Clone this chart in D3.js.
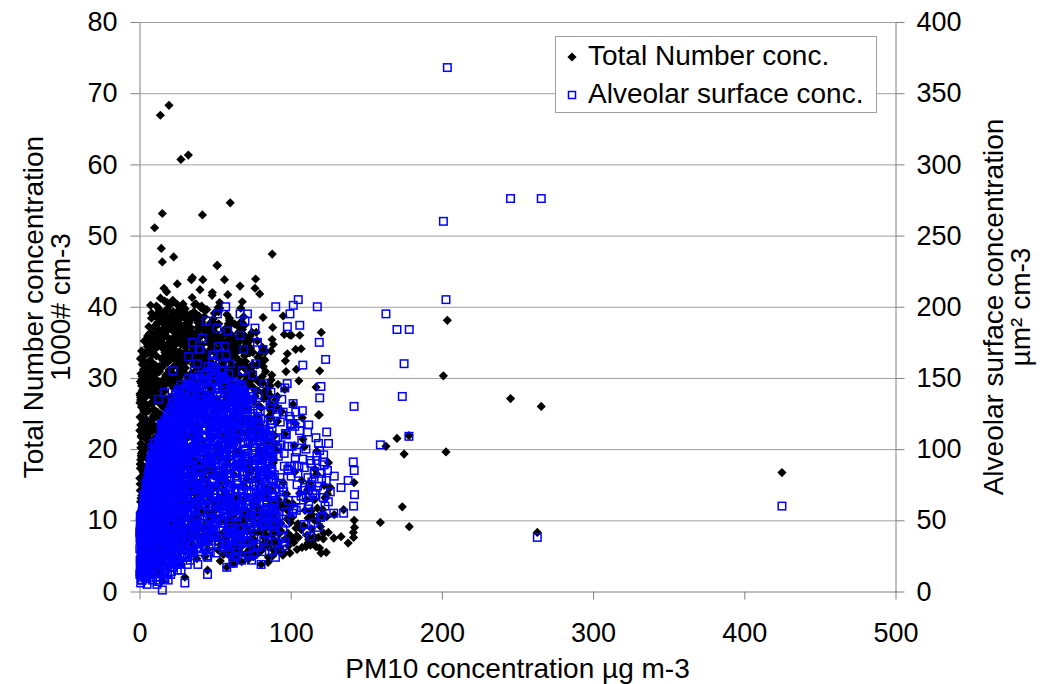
<!DOCTYPE html>
<html>
<head>
<meta charset="utf-8">
<script src="https://cdn.jsdelivr.net/npm/d3@7"></script>
<style>
body { margin: 0; background: #fff; }
text { font-family: "Liberation Sans", Arial, sans-serif; fill: #000; }
</style>
</head>
<body>
<svg id="chart" width="1044" height="684"></svg>
<script>
// tick labels
var pm10Ticks = [0, 100, 200, 300, 400, 500];
var numberTicks = [0, 10, 20, 30, 40, 50, 60, 70, 80];
var surfaceTicks = [0, 50, 100, 150, 200, 250, 300, 350, 400];
var seriesNames = ["Total Number conc.", "Alveolar surface conc."];

// PM10 of each sample (µg m-3)
var pm10 = [
  // 0-5
  1.2, 2.5, 0.8, 3.1, 4.2, 1.7, 2.9, 0.5, 3.8, 4.7,
  1.0, 2.2, 3.4, 0.9, 4.4, 1.5, 2.7, 3.6, 0.6, 4.9,
  1.9, 2.4, 3.0, 1.3, 4.0, 0.7, 2.0, 3.3, 4.6, 1.1,
  2.8, 0.4, 3.9, 1.6, 4.3, 2.1, 3.5, 0.8, 4.8, 1.4,
  2.6, 3.2, 0.5, 4.1, 1.8, 2.3, 3.7, 1.0, 4.5, 0.3,
  2.0, 3.0, 1.2, 4.2, 0.9, 2.5, 3.8, 1.6, 4.6, 2.9,
  // 5-10
  5.3, 6.8, 7.5, 8.9, 9.6, 5.9, 7.1, 8.3, 9.2, 6.2,
  5.6, 7.8, 8.6, 9.9, 6.5, 7.3, 8.1, 9.4, 5.1, 6.9,
  7.7, 8.8, 9.1, 6.0, 5.4, 7.0, 8.4, 9.7, 6.6, 7.9,
  5.8, 8.0, 9.3, 6.3, 7.4, 8.7, 9.8, 5.2, 6.7, 7.6,
  8.2, 9.0, 6.1, 5.7, 7.2, 8.5, 9.5, 6.4, 7.8, 8.9,
  5.5, 6.9, 9.2, 7.1, 8.0, 6.0, 9.9, 5.3, 7.5, 8.6,
  6.8, 9.4, 5.9, 7.7, 8.3, 6.6, 9.6, 10.0, 5.0, 7.3,
  // 10-20
  10.4, 11.7, 12.3, 13.8, 14.2, 15.6, 16.1, 17.9, 18.4, 19.5,
  10.9, 12.6, 13.1, 14.7, 15.3, 16.8, 17.2, 18.9, 19.1, 11.2,
  12.0, 13.5, 14.0, 15.9, 16.4, 17.6, 18.1, 19.8, 10.6, 11.9,
  13.3, 14.5, 15.1, 16.6, 17.4, 18.7, 19.3, 10.2, 11.5, 12.8,
  14.9, 15.7, 16.3, 17.1, 18.2, 19.6, 10.8, 12.1, 13.6, 14.3,
  15.4, 16.9, 17.7, 18.5, 19.9, 11.1, 12.4, 13.9, 14.6, 15.2,
  16.2, 17.8, 18.3, 19.2, 10.5, 11.8, 13.2, 14.8, 15.8, 16.7,
  17.3, 18.8, 19.4, 10.1, 12.2, 13.7, 14.1, 15.5, 16.5, 17.5,
  18.6, 19.7, 11.4, 12.7, 13.4, 14.4, 15.0, 16.0, 17.0, 18.0,
  19.0, 11.0, 12.9, 13.0, 14.0, 15.1, 16.4, 17.6, 18.9, 19.5,
  13.8, 19.5, 14.4, 15.1, 16.2, 22.6, 25.0, 15.1, 10.3, 12.5,
  // 20-30
  20.3, 21.8, 22.4, 23.9, 24.1, 25.7, 26.2, 27.6, 28.3, 29.5,
  20.8, 22.1, 23.3, 24.6, 25.2, 26.8, 27.1, 28.7, 29.2, 21.4,
  22.7, 23.6, 24.9, 25.4, 26.5, 27.9, 28.1, 29.8, 20.5, 21.2,
  22.9, 23.1, 24.3, 25.9, 26.1, 27.4, 28.9, 29.4, 20.1, 21.6,
  22.2, 23.8, 24.7, 25.1, 26.7, 27.2, 28.5, 29.7, 21.0, 22.5,
  23.4, 24.2, 25.6, 26.3, 27.8, 28.4, 29.1, 20.7, 21.9, 22.8,
  23.2, 24.8, 25.3, 26.9, 27.3, 28.6, 29.9, 20.4, 21.5, 22.3,
  23.7, 24.4, 25.8, 26.4, 27.5, 28.2, 29.3, 20.9, 21.3, 22.6,
  23.5, 24.5, 25.5, 26.6, 27.7, 28.8, 29.6, 21.7, 23.0, 24.0,
  25.0, 26.0, 27.0, 28.0, 29.0, 27.4, 32.3, 24.0, 22.0, 26.0,
  // 30-40
  30.2, 31.7, 32.4, 33.9, 34.1, 35.6, 36.3, 37.8, 38.2, 39.5,
  30.8, 32.1, 33.3, 34.7, 35.2, 36.9, 37.1, 38.6, 39.1, 31.3,
  32.8, 33.6, 34.4, 35.9, 36.5, 37.4, 38.9, 39.8, 30.5, 31.9,
  32.6, 33.1, 34.9, 35.3, 36.1, 37.6, 38.4, 39.3, 30.1, 31.5,
  32.3, 33.8, 34.2, 35.7, 36.7, 37.2, 38.8, 39.6, 31.1, 32.9,
  33.4, 34.6, 35.1, 36.4, 37.9, 38.1, 39.2, 30.6, 31.4, 32.2,
  33.7, 34.8, 35.8, 36.2, 37.3, 38.5, 39.9, 30.9, 31.8, 33.2,
  34.3, 35.4, 36.8, 37.7, 38.3, 39.4, 40.0, 32.5, 35.0, 37.0,
  // 40-50
  40.4, 41.8, 42.3, 43.7, 44.2, 45.6, 46.1, 47.9, 48.3, 49.5,
  40.9, 42.1, 43.2, 44.8, 45.3, 46.7, 47.2, 48.6, 49.1, 41.3,
  42.7, 43.9, 44.5, 45.9, 46.4, 47.5, 48.9, 49.8, 40.6, 41.5,
  42.9, 43.4, 44.1, 45.2, 46.8, 47.7, 48.1, 49.3, 41.1, 42.5,
  43.1, 44.6, 45.7, 46.2, 47.3, 48.4, 49.7, 40.2, 41.9, 43.5,
  44.9, 45.1, 46.6, 47.1, 48.8, 49.2, 51.3, 41.6, 48.2, 44.0,
  // 50-60
  50.3, 51.8, 52.4, 53.7, 54.2, 55.6, 56.1, 57.9, 58.3, 59.5,
  50.9, 52.1, 53.2, 54.8, 55.3, 56.7, 57.2, 58.6, 59.1, 51.4,
  52.7, 53.9, 54.5, 55.9, 56.4, 57.5, 58.9, 59.8, 50.6, 51.1,
  52.9, 53.4, 54.1, 55.2, 56.8, 57.7, 58.1, 59.3, 51.6, 54.9,
  56.2, 58.4, 51.5, 53.0, 57.0,
  // 60-70
  60.4, 61.8, 62.3, 63.7, 64.2, 65.6, 66.1, 67.9, 68.3, 69.5,
  60.9, 62.1, 63.2, 64.8, 65.3, 66.7, 67.2, 68.6, 69.1, 61.4,
  62.7, 63.9, 64.5, 65.9, 66.4, 67.5, 68.9, 69.8, 60.0, 66.5,
  63.4, 65.0, 66.5, 67.0, 68.0,
  // 70-80
  70.5, 71.8, 72.3, 73.7, 74.2, 75.6, 76.1, 77.9, 78.3, 79.5,
  70.9, 72.1, 73.2, 74.8, 75.3, 76.8, 77.2, 78.6, 79.1, 71.4,
  72.7, 74.5, 76.4, 78.0, 79.8,
  // 80-100
  80.5, 82.3, 84.1, 85.7, 87.8, 89.2, 90.6, 92.4, 94.1, 95.8,
  97.3, 99.5, 81.2, 83.6, 86.4, 88.7, 91.3, 93.2, 96.1, 98.4,
  81.7, 84.8, 87.1, 90.1, 92.9, 95.0, 97.8, 99.9, 85.0, 95.0,
  // 100-130
  100.5, 101.7, 103.3, 105.0, 106.0, 107.7, 108.0, 111.9, 116.7, 117.2,
  117.6, 118.9, 119.2, 120.0, 120.2, 121.8, 123.1, 123.8, 126.2, 128.8,
  128.5, 102.4, 110.3, 113.8, 125.0,
  // 130-145
  133.3, 141.4, 141.9, 142.0, 142.2, 141.6, 135.0, 138.0,
  // high PM10
  159.3, 163.0, 170.3, 173.8, 175.0, 178.2, 178.4, 201.0, 202.7, 203.6,
  245.4, 265.7, 263.1, 424.9,
  // low edge
  57.7, 80.4, 67.6, 15.1, 45.0, 30.0, 72.0, 88.0, 95.0, 62.0,
  // more samples 0-10
  0.4, 1.1, 1.8, 2.6, 3.3, 4.1, 4.9, 5.6, 6.4, 7.2,
  8.0, 8.8, 9.5, 0.7, 1.5, 2.2, 3.0, 3.7, 4.5, 5.2,
  6.0, 6.7, 7.5, 8.3, 9.1, 9.8, 0.2, 1.0, 1.7, 2.5,
  3.2, 4.0, 4.7, 5.5, 6.2, 7.0, 7.8, 8.5, 9.3, 0.6,
  1.3, 2.1, 2.8, 3.6, 4.3, 5.1, 5.8, 6.6, 7.3, 8.1,
  8.9, 9.6, 0.9, 1.6, 2.4, 3.1, 3.9, 4.6, 5.4, 6.1,
  6.9, 7.6, 8.4, 9.2, 9.9, 0.3, 1.2, 2.0, 2.7, 3.5,
  4.2, 5.0, 5.7, 6.5, 7.2, 8.0, 8.7, 9.5, 0.8, 1.4,
  2.3, 2.9, 3.8, 4.4, 5.3, 5.9, 6.8, 7.4, 8.2, 9.0,
  9.7, 0.5, 1.9, 3.4, 4.8, 6.3, 7.7, 9.2, 1.0, 2.6,
  4.0, 5.5, 7.0, 8.6, 0.2, 1.6, 3.1, 4.6, 6.0, 7.5,
  9.0, 0.7, 2.2, 3.7, 5.1, 6.6, 8.1, 9.6, 1.3, 2.8,
  4.3, 5.8, 7.3, 8.8, 0.4, 1.9, 3.3, 4.9, 6.4, 7.9,
  9.4, 1.1, 2.5, 4.0, 5.4, 6.9, 8.4, 9.8, 0.6, 2.1,
  3.6, 5.1, 6.5, 8.0, 9.5, 1.4, 2.9, 4.4, 5.9, 7.4,
  // more samples 10-30
  10.3, 11.5, 12.7, 13.9, 15.1, 16.3, 17.5, 18.7, 19.9, 21.1,
  22.3, 23.5, 24.7, 25.9, 27.1, 28.3, 29.5, 10.9, 12.1, 13.3,
  14.5, 15.7, 16.9, 18.1, 19.3, 20.5, 21.7, 22.9, 24.1, 25.3,
  26.5, 27.7, 28.9, 10.6, 11.8, 13.0, 14.2, 15.4, 16.6, 17.8,
  19.0, 20.2, 21.4, 22.6, 23.8, 25.0, 26.2, 27.4, 28.6, 29.8,
  11.2, 12.4, 13.6, 14.8, 16.0, 17.2, 18.4, 19.6, 20.8, 22.0,
  23.2, 24.4, 25.6, 26.8, 28.0, 29.2, 10.1, 11.3, 12.5, 13.7,
  14.9, 16.1, 17.3, 18.5, 19.7, 20.9, 22.1, 23.3, 24.5, 25.7,
  26.9, 28.1, 29.3, 10.7, 11.9, 13.1, 14.3, 15.5, 16.7, 17.9,
  19.1, 20.3, 21.5, 22.7, 23.9, 25.1, 26.3, 27.5, 28.7, 29.9,
  10.5, 11.7, 12.9, 14.1, 15.3, 16.5, 17.7, 18.9, 20.1, 21.3,
  22.5, 23.7, 24.9, 26.1, 27.3, 28.5, 29.7, 11.0, 12.2, 13.4,
  14.6, 15.8, 17.0, 18.2, 19.4, 20.6, 21.8, 23.0, 24.2, 25.4,
  26.6, 27.8, 29.0, 10.2, 11.4, 12.6, 13.8, 15.0, 16.2, 17.4,
  18.6, 19.8, 21.0, 22.2, 23.4, 24.6, 25.8, 27.0, 28.2, 29.4,
  10.8, 12.0, 13.2, 14.4, 15.6, 16.8, 18.0, 19.2, 20.4, 21.6,
  22.8, 24.0, 25.2, 26.4, 27.6, 28.8, 10.4, 11.6, 12.8, 14.0,
  15.2, 16.4, 17.6, 18.8, 20.0, 21.2, 22.4, 23.6, 24.8, 26.0,
  27.2, 28.4, 29.6, 11.1, 12.3, 13.5, 14.7, 15.9, 17.1, 18.3,
  19.5, 20.7, 21.9, 23.1, 24.3, 25.5, 26.7, 27.9, 29.1, 10.0,
  13.8, 17.0, 20.2, 23.4, 26.6, 29.8, 12.1, 15.3, 18.5, 21.7,
  24.9, 28.1, 11.5, 14.7, 17.9, 21.1, 24.3, 27.5, 10.6, 13.9,
  17.1, 20.3, 23.5, 26.7, 29.9, 12.6, 15.8, 19.0, 22.2, 25.4,
  28.6, 11.9, 15.1, 18.3, 21.5, 24.7, 27.9, 10.9, 14.2, 17.4,
  20.6, 23.8, 27.0, 13.0, 16.2, 19.4, 22.6, 25.8, 29.0, 16.6,
  // more samples 30-60
  30.4, 31.9, 33.4, 34.9, 36.4, 37.9, 39.4, 40.9, 42.4, 43.9,
  45.4, 46.9, 48.4, 49.9, 51.4, 52.9, 54.4, 55.9, 57.4, 58.9,
  30.9, 32.4, 33.9, 35.4, 36.9, 38.4, 39.9, 41.4, 42.9, 44.4,
  45.9, 47.4, 48.9, 50.4, 51.9, 53.4, 54.9, 56.4, 57.9, 59.4,
  31.4, 32.9, 34.4, 35.9, 37.4, 38.9, 40.4, 41.9, 43.4, 44.9,
  46.4, 47.9, 49.4, 50.9, 52.4, 53.9, 55.4, 56.9, 58.4, 59.9,
  30.2, 31.7, 33.2, 34.7, 36.2, 37.7, 39.2, 40.7, 42.2, 43.7,
  45.2, 46.7, 48.2, 49.7, 51.2, 52.7, 54.2, 55.7, 57.2, 58.7,
  30.7, 32.2, 33.7, 35.2, 36.7, 38.2, 39.7, 41.2, 42.7, 44.2,
  45.7, 47.2, 48.7, 50.2, 51.7, 53.2, 54.7, 56.2, 57.7, 59.2,
  31.2, 32.7, 34.2, 35.7, 37.2, 38.7, 40.2, 41.7, 43.2, 44.7,
  46.2, 47.7, 49.2, 50.7, 52.2, 53.7, 55.2, 56.7, 58.2, 59.7,
  30.1, 33.1, 36.1, 39.1, 42.1, 45.1, 48.1, 51.1, 54.1, 57.1,
  31.6, 34.6, 37.6, 40.6, 43.6, 46.6, 49.6, 52.6, 55.6, 58.6,
  32.1, 35.1, 38.1, 41.1, 44.1, 47.1, 50.1, 53.1, 56.1, 59.1,
  30.6, 33.6, 36.6, 39.6, 42.6, 45.6, 48.6, 51.6, 54.6, 57.6,
  32.6, 35.6, 38.6, 41.6, 44.6, 47.6, 50.6, 53.6, 56.6, 59.6,
  31.1, 34.1, 37.1, 40.1, 43.1, 46.1, 49.1, 52.1, 55.1, 58.1,
  30.3, 36.3, 42.3, 48.3, 54.3, 33.3, 39.3, 45.3, 51.3, 57.3,
  31.8, 37.8, 43.8, 49.8, 55.8, 34.8, 40.8, 46.8, 52.8, 58.8,
  // more samples 60-115
  60.5, 62.5, 64.5, 66.5, 68.5, 70.5, 72.5, 74.5, 76.5, 78.5,
  80.5, 82.5, 84.5, 86.5, 88.5, 61.5, 63.5, 65.5, 67.5, 69.5,
  71.5, 73.5, 75.5, 77.5, 79.5, 81.5, 83.5, 85.5, 87.5, 89.5,
  60.8, 63.8, 66.8, 69.8, 72.8, 75.8, 78.8, 81.8, 84.8, 87.8,
  61.8, 64.8, 67.8, 70.8, 73.8, 76.8, 79.8, 82.8, 85.8, 88.8,
  62.2, 65.2, 68.2, 71.2, 74.2, 77.2, 80.2, 83.2, 86.2, 89.2,
  60.2, 64.2, 68.8, 72.2, 76.2, 80.8, 84.2, 88.2, 63.2, 67.2,
  71.8, 75.2, 79.2, 83.8, 87.2, 61.2, 65.8, 69.2, 73.2, 77.8,
  81.2, 85.2, 89.8, 62.8, 66.2, 70.2, 74.8, 78.2, 82.2, 86.8,
  90.5, 93.5, 96.5, 99.5, 103.5, 107.5, 111.5, 115.5, 91.8, 97.8,
  // upper edge of the cloud 35-75
  35.5, 38.5, 41.5, 44.5, 47.5, 50.5, 53.5, 56.5, 59.5, 62.5,
  65.5, 68.5, 71.5, 74.5, 36.8, 39.8, 42.8, 45.8, 48.8, 51.8,
  54.8, 57.8, 60.8, 63.8, 66.8, 69.8, 72.8, 37.3, 40.3, 43.3,
  46.3, 49.3, 52.3, 55.3, 58.3, 61.3, 64.3, 67.3, 70.3, 73.3,
  38.1, 41.1, 44.1, 47.1, 50.1, 53.1, 56.1, 59.1, 62.1, 65.1,
  68.1, 35.9, 39.4, 42.9, 46.4, 49.9, 53.4, 56.9, 60.4, 63.9,
  67.4, 70.9, 36.2, 40.7, 45.2, 49.7, 54.2, 58.7, 63.2, 67.7,
  37.6, 42.1, 46.6, 51.1, 55.6, 60.1, 64.6, 69.1, 48.0, 52.0,
  // more samples 55-90
  55.2, 57.6, 60.0, 62.4, 64.8, 67.2, 69.6, 72.0, 74.4, 76.8,
  79.2, 81.6, 84.0, 86.4, 88.8, 56.4, 58.8, 61.2, 63.6, 66.0,
  68.4, 70.8, 73.2, 75.6, 78.0, 80.4, 82.8, 85.2, 87.6, 90.0,
  55.8, 58.2, 60.6, 63.0, 65.4, 67.8, 70.2, 72.6, 75.0, 77.4,
  79.8, 82.2, 84.6, 87.0, 89.4, 57.0, 59.4, 61.8, 64.2, 66.6,
  69.0, 71.4, 73.8, 76.2, 78.6, 81.0, 83.4, 85.8, 88.2, 56.1,
  58.5, 60.9, 63.3, 65.7, 68.1, 70.5, 72.9, 75.3, 77.7, 80.1,
  82.5, 84.9, 87.3, 89.7, 57.3, 59.7, 62.1, 64.5, 66.9, 69.3,
  71.7, 74.1, 76.5, 78.9, 81.3, 83.7, 86.1, 88.5, 55.5, 57.9,
  60.3, 62.7, 65.1, 67.5, 69.9, 72.3, 74.7, 77.1, 79.5, 81.9,
  84.3, 86.7, 89.1, 56.7, 59.1, 61.5, 63.9, 66.3, 68.7, 71.1,
  73.5, 75.9, 78.3, 80.7, 83.1, 85.5, 87.9, 55.9, 58.3, 60.7,
  63.1, 65.5, 67.9, 70.3, 72.7, 75.1, 77.5, 79.9, 82.3, 84.7,
  87.1, 89.5, 56.9, 59.3, 61.7, 64.1, 66.5, 68.9, 71.3, 73.7,
  76.1, 78.5, 80.9, 83.3, 85.7, 88.1, 62.6, 70.6, 78.7, 86.6,
  // more samples 85-125
  85.4, 88.6, 91.2, 94.8, 97.1, 100.3, 103.7, 106.2, 109.5, 112.8,
  115.1, 118.4, 121.6, 124.3, 86.9, 90.3, 93.6, 96.2, 99.8, 102.1,
  105.4, 108.9, 111.2, 114.6, 117.3, 120.8, 123.5, 87.7, 92.4, 95.7,
  98.5, 101.6, 104.8, 107.3, 110.7, 113.4, 116.8, 119.1, 122.7, 89.2,
  93.1, 96.9, 100.9, 104.2, 108.1, 111.9, 115.8, 119.7, 86.2, 90.8,
  94.3, 98.2, 102.7, 106.9, 110.1, 114.0, 118.2, 122.1, 88.1, 92.0,
  95.4, 99.1, 103.0, 107.0, 111.4, 116.0, 91.6, 97.7, 101.2, 105.9,
  109.0, 113.1, 117.7, 121.2, 124.9, 89.9, 96.5, 103.9, 112.3, 120.4,
  // upper edge 18-35
  18.5, 20.5, 22.5, 24.5, 26.5, 28.5, 30.5, 32.5, 34.5, 19.5,
  21.5, 23.5, 25.5, 27.5, 29.5, 31.5, 33.5, 18.0, 22.0, 26.0,
  30.0, 34.0, 20.0, 24.0, 28.0, 32.0, 25.0, 29.0, 33.0, 35.0,
  // lower part of the cloud 5-85
  6.5, 9.5, 12.5, 15.5, 18.5, 21.5, 24.5, 27.5, 30.5, 33.5,
  36.5, 39.5, 7.8, 10.8, 13.8, 16.8, 19.8, 22.8, 25.8, 28.8,
  31.8, 34.8, 37.8, 40.8, 43.8, 46.8, 49.8, 52.8, 55.8, 58.8,
  61.8, 64.8, 67.8, 70.8, 73.8, 76.8, 79.8, 82.8, 5.6, 8.6,
  11.6, 14.6, 17.6, 20.6, 23.6, 26.6, 29.6, 32.6, 35.6, 38.6,
  41.6, 44.6, 47.6, 50.6, 53.6, 56.6, 59.6, 62.6, 65.6, 68.6
];

// total number concentration (1000# cm-3), left axis
var totalNumber = [
  5.2, 8.1, 18.5, 12.3, 3.9, 22.4, 6.7, 27.8, 10.2, 15.6,
  13.1, 4.4, 25.3, 9.6, 20.1, 2.8, 16.7, 7.3, 29.5, 11.8,
  24.2, 14.5, 3.3, 19.4, 8.8, 12.6, 28.3, 6.1, 17.2, 21.7,
  9.9, 15.1, 4.8, 26.4, 13.7, 7.9, 23.1, 11.2, 5.6, 18.9,
  2.4, 10.7, 14.2, 8.4, 30.2, 16.3, 6.5, 20.8, 12.9, 3.6,
  9.1, 25.9, 4.1, 11.5, 17.8, 7.2, 13.4, 22.9, 5.9, 15.7,

  6.2, 14.8, 28.1, 9.5, 19.3, 33.6, 4.7, 22.5, 12.1, 37.2,
  17.4, 8.3, 26.7, 3.9, 15.2, 31.4, 10.6, 24.3, 13.8, 6.9,
  20.7, 35.1, 11.4, 27.9, 7.6, 18.2, 2.9, 29.8, 16.1, 38.4,
  9.2, 23.6, 14.1, 5.3, 32.2, 12.7, 21.5, 26.1, 8.8, 19.9,
  34.7, 15.8, 25.4, 11.1, 30.3, 4.2, 17.9, 22.8, 36.3, 13.2,
  28.6, 7.1, 20.2, 16.6, 39.1, 10.1, 24.9, 18.6, 6.4, 27.3,
  14.4, 31.9, 21.1, 9.7, 35.8, 12.4, 29.1, 51.1, 23.3, 40.2,

  7.4, 18.2, 29.6, 12.8, 35.3, 22.1, 9.6, 26.7, 15.4, 38.5,
  4.8, 31.2, 20.3, 13.9, 27.5, 10.2, 33.8, 17.6, 24.4, 40.1,
  8.5, 21.9, 36.4, 14.7, 28.9, 6.3, 19.1, 32.6, 11.5, 25.2,
  39.2, 16.3, 23.7, 5.1, 30.4, 13.2, 34.9, 20.8, 9.1, 27.1,
  17.9, 37.6, 12.2, 22.6, 3.7, 29.3, 15.8, 35.9, 24.9, 10.7,
  31.7, 18.8, 7.2, 26.3, 14.1, 33.1, 21.4, 41.2, 8.9, 19.7,
  28.2, 12.6, 36.8, 16.9, 23.2, 4.3, 30.9, 11.9, 25.8, 38.9,
  15.2, 20.1, 32.4, 9.8, 27.7, 17.3, 34.4, 6.8, 22.8, 13.5,
  29.9, 18.4, 37.1, 10.4, 24.1, 2.6, 31.5, 16.1, 26.9, 42.1,
  14.6, 21.3, 35.6, 8.2, 28.6, 19.4, 12.1, 33.5, 23.9, 5.7,
  66.9, 68.3, 48.2, 46.3, 42.6, 47.0, 43.2, 53.1, 30.7, 36.2,

  9.3, 21.5, 32.8, 14.2, 26.9, 38.1, 6.7, 18.4, 29.2, 11.6,
  35.4, 23.8, 4.9, 16.7, 30.5, 12.9, 37.3, 20.6, 8.1, 27.4,
  15.3, 33.9, 24.7, 10.5, 39.6, 19.2, 13.8, 28.7, 7.5, 34.2,
  22.3, 17.1, 36.7, 5.8, 25.6, 31.3, 11.1, 21.9, 38.8, 14.8,
  29.9, 9.7, 19.8, 35.1, 12.4, 26.2, 16.5, 32.1, 7.9, 24.3,
  37.9, 13.6, 28.1, 20.2, 3.8, 30.8, 17.7, 10.9, 33.4, 23.1,
  15.9, 38.6, 8.7, 27.8, 21.1, 36.2, 12.7, 29.6, 18.9, 6.2,
  34.7, 14.5, 25.1, 31.9, 9.4, 22.7, 39.9, 16.2, 27.2, 11.8,
  19.5, 35.8, 13.1, 30.1, 24.8, 40.4, 18.1, 26.6, 8.4, 32.7,
  21.6, 15.6, 37.4, 10.2, 28.4, 60.7, 61.3, 36.8, 40.9, 39.3,

  10.8, 24.2, 35.1, 15.7, 29.4, 39.2, 7.8, 20.3, 31.6, 13.2,
  37.5, 26.1, 5.4, 18.6, 33.2, 11.9, 28.3, 22.4, 9.1, 36.8,
  16.4, 34.5, 25.8, 12.6, 40.3, 21.2, 14.9, 30.7, 8.3, 27.5,
  23.6, 19.1, 38.4, 6.6, 32.4, 17.2, 11.3, 26.8, 39.7, 15.1,
  30.2, 10.1, 21.8, 36.1, 13.7, 28.8, 18.3, 34.1, 7.4, 25.2,
  38.9, 14.4, 29.8, 22.9, 4.6, 31.2, 19.7, 12.1, 35.6, 24.6,
  16.9, 41.3, 9.6, 27.9, 20.8, 37.1, 13.4, 33.7, 17.8, 5.9,
  43.8, 15.5, 26.4, 32.9, 11.7, 23.4, 42.4, 8.9, 44.1, 18.1,

  12.4, 26.3, 36.7, 17.2, 31.5, 9.3, 22.8, 34.2, 14.6, 39.1,
  28.1, 6.8, 19.9, 33.4, 13.5, 24.7, 37.8, 10.6, 29.6, 21.3,
  16.1, 35.9, 27.2, 8.1, 30.8, 18.7, 38.3, 11.8, 25.4, 33.9,
  20.5, 4.9, 32.1, 15.3, 27.8, 36.2, 12.9, 23.1, 40.1, 17.6,
  29.2, 9.8, 22.2, 34.8, 14.2, 26.9, 19.3, 31.1, 43.8, 24.1,
  37.2, 11.2, 28.6, 16.8, 35.3, 21.7, 45.8, 52.9, 42.0, 7.5,

  11.4, 25.3, 35.7, 16.2, 30.5, 8.3, 21.8, 33.2, 13.6, 38.1,
  27.1, 5.8, 18.9, 32.4, 12.5, 23.7, 36.8, 9.6, 28.6, 20.3,
  15.1, 34.9, 26.2, 7.1, 29.8, 17.7, 37.3, 10.8, 24.4, 32.9,
  19.5, 4.3, 31.1, 14.3, 26.8, 35.2, 11.9, 22.1, 39.4, 16.6,
  43.8, 41.7, 45.8, 40.6, 6.2,

  12.1, 26.4, 35.2, 17.5, 31.2, 9.1, 22.3, 33.8, 14.7, 37.4,
  27.9, 6.4, 19.6, 32.7, 13.3, 24.2, 36.1, 10.3, 29.4, 21.1,
  16.4, 34.5, 25.7, 7.8, 30.3, 18.2, 38.6, 11.5, 54.6, 42.9,
  4.8, 8.6, 5.5, 39.8, 40.7,

  13.2, 27.3, 33.6, 18.4, 30.1, 9.8, 23.4, 35.2, 15.6, 41.8,
  28.6, 7.2, 20.5, 31.9, 12.8, 43.9, 36.4, 8.4, 26.1, 22.2,
  5.6, 17.1, 42.6, 10.9, 29.3,

  8.3, 22.1, 14.5, 27.6, 47.4, 11.2, 19.8, 6.9, 25.3, 36.1,
  13.7, 36.0, 30.2, 9.4, 17.6, 5.8, 23.9, 12.1, 28.4, 7.3,
  38.5, 16.2, 10.4, 20.7, 6.2, 15.3, 33.4, 9.7, 4.1, 38.7,

  36.0, 12.3, 34.0, 7.6, 36.0, 24.4, 9.2, 14.8, 6.3, 16.5,
  11.7, 24.8, 31.0, 5.4, 36.4, 8.2, 13.1, 10.5, 14.6, 10.8,
  7.5, 20.5, 12.9, 8.8, 18.1,

  7.7, 8.3, 15.3, 10.0, 9.0, 7.6, 11.5, 6.8,

  9.7, 20.4, 21.5, 11.9, 19.3, 21.9, 9.1, 30.3, 19.6, 38.1,
  27.1, 26.0, 8.3, 16.7,

  3.4, 3.8, 4.2, 1.5, 3.0, 2.0, 4.5, 5.0, 5.5, 3.9,

  24.5, 11.2, 29.8, 17.6, 33.1, 8.4, 26.2, 14.9, 35.7, 21.3,
  31.6, 6.9, 19.4, 27.3, 13.5, 32.9, 9.8, 23.7, 16.2, 34.4,
  12.8, 28.6, 20.9, 5.7, 30.4, 18.1, 22.6, 10.3, 26.8, 15.4,
  35.2, 23.1, 7.6, 29.2, 14.3, 32.5, 19.9, 11.7, 27.5, 17.3,
  25.9, 13.1, 31.2, 9.2, 21.8, 34.8, 16.7, 28.1, 6.3, 24.1,
  18.6, 30.7, 20.2, 27.9, 11.9, 25.4, 33.6, 15.8, 22.9, 8.8,
  29.5, 17.1, 34.1, 12.4, 24.8, 26.5, 19.1, 31.9, 14.1, 21.6,
  10.6, 28.4, 22.1, 36.2, 16.4, 30.1, 13.8, 25.6, 23.4, 28.9,
  16.9, 32.3, 9.5, 26.1, 20.6, 33.9, 12.2, 29.1, 18.4, 24.6,
  35.4, 17.9, 27.1, 14.6, 31.4, 21.1, 11.4, 27.8, 30.6, 19.2,
  25.1, 8.1, 32.2, 18.9, 15.9, 24.3, 13.3, 29.6, 22.4, 34.6,
  20.4, 26.9, 10.9, 30.9, 17.4, 28.2, 23.6, 12.9, 21.9, 16.1,
  31.1, 22.7, 14.4, 33.3, 27.6, 19.6, 25.2, 30.2, 9.9, 26.4,
  13.6, 29.3, 23.9, 20.1, 35.9, 15.1, 28.7, 18.2, 32.7, 11.1,
  27.2, 21.7, 30.3, 16.6, 26.6, 33.8, 19.8, 24.2, 29.9, 14.8,

  28.4, 35.1, 19.7, 38.2, 24.6, 31.9, 12.3, 36.7, 27.2, 33.4,
  21.8, 37.6, 29.9, 14.2, 34.8, 25.3, 39.1, 30.6, 22.4, 36.3,
  32.7, 17.5, 38.9, 26.1, 33.8, 11.6, 29.4, 35.5, 20.3, 37.2,
  27.8, 31.3, 23.1, 34.1, 16.8, 39.4, 28.9, 32.6, 9.7, 36.9,
  30.2, 25.7, 37.9, 19.2, 35.9, 27.4, 33.1, 15.1, 38.6, 24.2,
  36.1, 29.1, 13.4, 34.4, 26.6, 38.1, 22.9, 31.1, 35.3, 18.4,
  33.6, 21.1, 37.4, 28.3, 12.7, 30.8, 34.7, 26.9, 39.8, 23.5,
  29.6, 36.5, 17.2, 32.2, 38.4, 25.1, 30.1, 10.8, 35.8, 28.7,
  22.1, 33.3, 26.4, 37.1, 14.8, 31.6, 36.2, 24.4, 32.9, 39.6,
  27.1, 20.7, 34.3, 29.5, 37.7, 16.3, 33.2, 30.9, 25.8, 35.2,
  38.7, 24.9, 31.4, 18.7, 35.6, 28.1, 33.9, 22.6, 40.2, 29.7,
  34.9, 13.9, 30.4, 26.2, 36.8, 21.4, 32.3, 37.5, 27.6, 35.4,
  19.9, 32.4, 38.3, 25.5, 34.2, 29.2, 11.3, 36.4, 30.3, 23.8,
  33.7, 27.9, 37.3, 31.8, 20.1, 38.8, 26.3, 34.6, 29.8, 15.6,
  35.7, 30.5, 24.1, 39.3, 33.5, 18.9, 36.6, 28.5, 32.1, 26.7,
  31.7, 37.8, 22.2, 35.1, 29.3, 33.6, 16.9, 38.1, 25.6, 30.7,
  36.9, 24.7, 32.8, 20.6, 37.3, 28.2, 34.5, 31.2, 13.1, 39.2,
  26.5, 35.9, 30.2, 37.6, 22.7, 33.4, 28.6, 19.4, 36.1, 32.5,
  29.1, 17.8, 38.5, 34.3, 27.3, 31.5, 36.7, 23.3, 33.1, 40.6,
  25.2, 32.6, 35.3, 28.8, 38.3, 21.9, 30.6, 34.9, 16.1, 37.1,
  6.2, 4.9, 7.5, 5.8, 8.4, 6.9, 3.6, 4.4, 5.1, 7.1,
  8.1, 9.3, 3.1, 5.5, 6.6, 7.8, 8.8, 10.2, 2.8, 4.1,
  5.9, 7.2, 8.6, 9.6, 10.4, 4.7, 6.1, 6.8, 7.9, 9.1,
  10.9, 3.9, 5.2, 6.4, 7.4, 8.9, 9.9, 2.5, 4.6, 6.0,
  7.7, 8.2, 9.4, 5.3, 6.7, 7.0, 8.5, 9.2, 11.2, 40.8,

  31.4, 26.8, 36.9, 22.4, 34.5, 29.1, 38.7, 24.9, 33.2, 19.6,
  35.8, 27.5, 31.9, 37.4, 23.7, 33.9, 28.4, 36.1, 21.2, 32.6,
  25.3, 38.2, 30.1, 34.8, 20.9, 36.6, 27.9, 32.3, 39.5, 26.2,
  33.5, 24.1, 37.8, 29.6, 35.4, 18.8, 31.7, 26.5, 34.2, 30.4,
  37.1, 29.8, 23.3, 35.9, 32.8, 27.1, 39.9, 30.9, 25.6, 36.4,
  28.7, 34.6, 31.3, 22.8, 37.6, 26.3, 33.1, 29.3, 35.1, 24.4,
  34.3, 21.6, 36.3, 30.6, 27.7, 38.9, 32.1, 25.1, 37.3, 28.9,
  30.8, 36.8, 25.9, 33.7, 29.9, 35.6, 22.1, 31.6, 27.3, 34.9,
  26.7, 32.5, 38.4, 28.2, 35.2, 24.7, 31.1, 37.9, 29.4, 33.3,
  35.3, 27.6, 30.2, 36.2, 23.9, 33.8, 28.6, 32.8, 26.1, 31.2,
  12.4, 18.1, 9.7, 15.3, 21.5, 7.9, 16.8, 11.1, 19.7, 13.6,
  14.9, 8.6, 17.4, 12.2, 20.3, 10.4, 15.9, 6.8, 18.6, 11.8,
  7.3, 9.1, 6.2, 11.4, 8.7, 5.9, 10.2, 7.6, 9.8, 6.9,
  8.4, 5.4, 10.8, 6.6, 9.4, 7.1, 8.1, 11.7, 5.2, 10.1,
  33.1, 28.3, 35.7, 30.3, 26.9, 34.1, 31.8, 29.2, 36.7, 27.8,
  24.2, 36.1, 29.7, 33.6, 27.4, 31.5, 35.5, 25.7, 30.5, 34.4,
  37.7, 31.9, 26.4, 34.7, 29.5, 36.9, 24.6, 32.7, 28.1, 33.4,
  21.9, 17.3, 25.5, 14.1, 19.1, 23.2, 16.2, 20.7, 13.3, 18.4,
  39.1, 35.4, 33.8, 31.4, 29.6, 37.2, 34.8, 32.4, 30.7, 28.5,
  13.8, 16.5, 11.6, 14.7, 12.9, 15.6, 17.9, 10.6, 13.2, 9.3,

  28.6, 33.4, 24.1, 31.7, 26.3, 35.2, 22.7, 30.1, 27.4, 29.5,
  25.8, 32.6, 21.3, 28.9, 34.7, 30.6, 25.2, 36.4, 23.8, 33.1,
  29.3, 34.2, 26.7, 31.8, 23.4, 27.9, 33.7, 24.6, 30.4, 21.9,
  8.4, 6.1, 9.7, 5.2, 10.6, 7.3, 11.8, 6.7, 9.1, 7.9,
  5.7, 8.8, 6.4, 10.1, 7.1, 12.2, 5.9, 8.2, 11.3, 6.9,
  14.7, 19.3, 12.8, 17.6, 21.4, 15.9, 18.8, 13.6, 16.4, 20.2,
  9.9, 7.6, 11.1, 8.6, 6.3, 10.4, 7.8, 9.4, 12.6, 8.1,
  18.1, 22.6, 16.9, 20.8, 14.3, 24.3, 19.7, 26.1, 17.3, 23.5,
  10.9, 13.1, 11.7, 37.6, 35.1, 32.3, 30.8, 28.2, 27.1, 25.4,
  6.6, 9.6, 7.4, 5.4, 8.9, 6.2, 10.3, 7.7, 12.9, 11.4,

  33.2, 37.8, 29.4, 39.6, 31.1, 36.3, 34.7, 30.2, 38.4, 32.9,
  35.6, 28.7, 33.9, 31.5, 39.1, 34.2, 36.9, 30.8, 37.4, 35.1,
  32.3, 38.9, 29.9, 34.6, 36.1, 31.8, 33.5, 40.4, 35.8, 37.1,
  30.4, 33.7, 39.3, 32.1, 36.7, 34.9, 29.1, 37.9, 31.2, 35.3,
  38.2, 32.7, 36.4, 30.1, 34.1, 39.8, 33.1, 35.9, 28.4, 31.9,
  36.8, 34.4, 30.6, 38.6, 32.5, 37.2, 35.4, 29.6, 33.8, 31.4,
  27.6, 34.8, 38.8, 31.6, 36.5, 30.9, 33.3, 37.6, 26.8, 32.2,
  35.2, 29.3, 37.3, 33.6, 30.3, 36.2, 28.9, 34.3, 41.6, 39.9,

  8.2, 27.4, 5.6, 33.1, 11.3, 22.6, 6.9, 30.2, 36.4, 9.7,
  19.8, 29.3, 7.1, 25.7, 12.4, 34.6, 5.2, 31.8, 8.8, 21.3,
  28.7, 10.6, 35.9, 6.3, 24.1, 13.9, 32.5, 4.8, 18.4, 26.9,
  16.1, 7.7, 30.7, 9.3, 37.2, 14.8, 27.8, 5.9, 33.6, 11.8,
  23.4, 6.6, 20.9, 29.7, 8.5, 26.2, 35.3, 4.5, 31.1, 10.2,
  17.6, 34.1, 7.4, 28.3, 5.4, 22.2, 30.9, 12.9, 25.3, 36.8,
  15.3, 27.1, 6.2, 33.9, 19.2, 9.1, 29.5, 4.9, 24.6, 32.2,
  8.9, 28.1, 14.2, 6.8, 26.5, 11.6, 35.7, 21.7, 7.9, 31.4,
  23.9, 5.1, 29.9, 13.4, 34.3, 9.6, 27.6, 18.1, 33.2, 20.4,
  6.1, 30.4, 12.7, 37.5, 25.9, 16.7, 28.8, 5.7, 22.9, 31.6,
  10.9, 24.3, 7.2, 34.8, 13.1, 29.1, 4.6, 26.7, 36.1, 15.8,
  30.1, 8.3, 32.9, 19.6, 14.5, 27.3, 9.9, 30.6, 6.4, 23.1,
  32.8, 17.3, 25.1, 5.3, 31.3, 12.1, 21.6, 33.4, 7.6, 28.5,
  19.1, 10.3, 26.1, 32.6, 6.7, 24.9, 29.2, 14.9, 35.6, 11.1,
  22.4, 31.9, 5.8, 18.7, 28.9, 8.6, 34.2, 30.3, 9.4, 26.3,

  6.2, 9.8, 27.4, 5.1, 12.6, 7.7, 31.2, 8.9, 11.4, 6.6,
  10.1, 24.8, 7.4, 13.7, 33.8, 5.7, 8.4, 22.1, 11.9, 6.9,
  29.6, 9.2, 14.3, 7.1, 19.7, 10.7, 5.5, 35.4, 8.1, 12.2,
  6.4, 26.3, 9.5, 15.6, 7.9, 11.3, 28.7, 6.1, 13.2, 18.5,
  8.6, 30.9, 10.4, 5.9, 21.4, 7.3, 12.9, 9.1, 6.7, 25.9,
  11.7, 8.2, 16.8, 34.1, 6.3, 10.8, 7.6, 14.9, 37.1, 9.4,
  5.3, 12.3, 23.6, 8.7, 6.8, 17.2, 29.1, 10.2, 7.5, 13.8,
  20.3, 6.5, 9.9, 11.5, 8.3, 5.6, 32.4, 7.8, 15.2, 10.6,

  34.2, 37.1, 31.6, 39.2, 35.5, 32.8, 38.4, 36.1, 30.7, 33.9,
  29.8, 37.7, 35.0, 31.2, 39.0, 34.7, 36.6, 32.4, 38.1, 30.3,
  35.8, 33.3, 37.4, 31.9, 34.9, 36.9, 40.3, 29.2, 38.7, 33.6,

  8.1, 12.4, 6.7, 10.9, 14.2, 9.3, 7.5, 11.8, 13.6, 8.8,
  10.2, 12.9, 9.6, 7.1, 13.1, 11.4, 8.4, 14.7, 10.6, 6.3,
  12.1, 9.9, 7.8, 11.1, 8.6, 13.8, 10.4, 7.4, 12.6, 9.1,
  6.9, 11.6, 8.2, 10.1, 7.3, 12.2, 9.4, 6.5, 11.9, 8.9,
  13.3, 7.6, 10.7, 12.7, 9.7, 6.8, 11.3, 8.3, 14.1, 10.3,
  7.9, 12.3, 9.2, 11.7, 6.6, 13.4, 8.7, 10.8, 7.2, 12.8
];

// alveolar surface concentration (µm² cm-3), right axis
var alveolarSurface = [
  22, 35, 48, 15, 60, 30, 42, 12, 55, 70,
  28, 18, 65, 38, 25, 8, 52, 45, 20, 62,
  33, 58, 10, 40, 27, 50, 17, 68, 36, 24,
  46, 14, 57, 31, 74, 21, 39, 6, 63, 29,
  44, 16, 53, 34, 11, 57, 26, 49, 19, 37,
  56, 23, 41, 9, 45, 32, 47, 13, 72, 43,

  35, 58, 82, 20, 67, 45, 92, 28, 74, 51,
  12, 63, 88, 40, 55, 87, 31, 70, 48, 25,
  80, 38, 60, 15, 74, 53, 72, 43, 86, 22,
  66, 47, 78, 33, 88, 57, 18, 72, 62, 41,
  76, 29, 80, 52, 69, 37, 81, 24, 59, 95,
  44, 71, 16, 87, 56, 34, 77, 49, 65, 8,
  85, 42, 73, 27, 83, 61, 39, 68, 5, 54,

  45, 78, 102, 25, 88, 60, 115, 38, 95, 70,
  18, 83, 108, 52, 66, 120, 32, 91, 57, 75,
  99, 42, 80, 12, 112, 64, 86, 48, 105, 29,
  73, 55, 118, 36, 93, 68, 22, 84, 96, 50,
  62, 97, 40, 77, 124, 27, 89, 58, 104, 46,
  82, 15, 71, 100, 34, 92, 65, 108, 53, 79,
  43, 107, 87, 24, 61, 96, 74, 113, 39, 85,
  56, 101, 30, 69, 94, 47, 108, 63, 81, 20,
  109, 72, 44, 98, 59, 110, 35, 90, 66, 103,
  8, 76, 49, 104, 86, 41, 116, 67, 95, 54,
  60, 80, 55, 70, 75, 65, 85, 50, 45, 135,

  52, 88, 115, 33, 97, 71, 124, 45, 105, 80,
  26, 93, 118, 62, 76, 128, 40, 101, 67, 85,
  110, 55, 90, 19, 122, 74, 96, 58, 113, 37,
  83, 65, 127, 44, 103, 78, 30, 94, 119, 60,
  72, 108, 50, 87, 130, 36, 99, 68, 116, 56,
  91, 23, 81, 111, 42, 102, 75, 125, 63, 89,
  53, 117, 97, 32, 70, 106, 84, 121, 48, 95,
  66, 112, 38, 79, 104, 57, 129, 73, 92, 28,
  120, 82, 51, 109, 69, 126, 43, 100, 77, 114,
  15, 86, 59, 123, 98, 145, 150, 138, 155, 142,

  58, 95, 122, 40, 104, 78, 131, 52, 112, 86,
  32, 99, 126, 68, 83, 134, 47, 108, 73, 91,
  117, 61, 97, 25, 129, 80, 103, 64, 120, 44,
  89, 71, 133, 50, 110, 84, 36, 101, 124, 66,
  77, 114, 56, 93, 135, 42, 106, 75, 121, 62,
  98, 28, 87, 118, 48, 109, 81, 132, 69, 94,
  59, 125, 102, 38, 76, 113, 90, 128, 54, 100,
  72, 119, 45, 85, 160, 152, 170, 165, 175, 148,

  62, 98, 126, 45, 108, 82, 133, 57, 116, 90,
  36, 103, 130, 72, 88, 120, 52, 112, 78, 95,
  124, 66, 100, 30, 132, 85, 106, 69, 122, 48,
  93, 75, 135, 55, 114, 87, 40, 105, 128, 70,
  80, 118, 60, 97, 134, 46, 110, 79, 125, 64,
  101, 24, 92, 121, 150, 166, 185, 178, 158, 190,

  66, 101, 124, 48, 110, 85, 130, 60, 117, 92,
  38, 105, 128, 75, 90, 121, 55, 113, 80, 97,
  126, 68, 102, 33, 129, 87, 107, 71, 123, 51,
  95, 77, 120, 57, 115, 88, 42, 104, 140, 160,
  172, 183, 195, 150, 200,

  70, 104, 122, 52, 112, 88, 125, 64, 116, 95,
  42, 106, 120, 78, 93, 118, 59, 110, 84, 100,
  123, 72, 103, 36, 145, 90, 170, 190, 160, 195,
  30, 28, 180, 138, 155,

  74, 106, 120, 55, 113, 90, 118, 66, 110, 98,
  45, 104, 116, 80, 94, 160, 62, 108, 85, 195,
  35, 140, 185, 175, 100,

  82, 104, 62, 112, 95, 48, 100, 70, 135, 88,
  56, 195, 92, 75, 120, 42, 108, 66, 143, 85,
  170, 98, 58, 200, 80, 126, 186, 117, 35, 73,

  118, 201, 126, 205, 187, 127, 159, 117, 108, 92,
  200, 175, 136, 144, 83, 96, 163, 112, 70, 81,
  55, 88, 66, 75, 104,

  73, 91, 130, 85, 68, 60, 55, 78,

  103, 195, 184, 137, 160, 109, 184, 260, 205, 368,
  276, 276, 38, 60,

  17, 19, 22, 1, 12, 6, 25, 28, 32, 20,

  41, 13, 56, 30, 64, 52, 24, 80, 61, 90,
  38, 72, 104, 47, 52, 19, 46, 68, 71, 35,
  76, 44, 91, 65, 27, 100, 30, 49, 8, 60,
  58, 16, 73, 48, 84, 29, 79, 54, 87, 44,
  36, 59, 43, 26, 69, 77, 15, 53, 70, 95,
  62, 82, 21, 55, 35, 63, 42, 11, 64, 83,
  37, 58, 17, 75, 90, 12, 50, 51, 63, 66,
  33, 55, 72, 86, 46, 84, 39, 67, 40, 28,
  58, 18, 52, 76, 41, 81, 66, 24, 101, 50,
  31, 48, 54, 37, 59, 26, 85, 94, 19, 56,
  68, 30, 62, 78, 42, 43, 22, 48, 57, 94,
  43, 35, 28, 67, 69, 87, 60, 97, 54, 68,
  28, 81, 34, 91, 22, 51, 64, 40, 45, 71,
  58, 46, 39, 53, 78, 73, 29, 78, 44, 14,
  47, 63, 20, 49, 36, 48, 61, 70, 33, 82,

  84, 33, 101, 58, 115, 72, 46, 108, 90, 121,
  65, 104, 40, 117, 86, 126, 99, 71, 22, 93,
  109, 64, 82, 118, 37, 97, 112, 78, 124, 56,
  103, 74, 119, 50, 97, 106, 63, 87, 114, 28,
  76, 123, 52, 95, 109, 68, 121, 89, 44, 113,
  99, 61, 85, 99, 44, 116, 81, 104, 30, 88,
  118, 83, 98, 62, 127, 79, 96, 14, 76, 104,
  73, 101, 55, 93, 117, 69, 105, 42, 96, 128,
  51, 108, 92, 95, 66, 43, 118, 57, 95, 84,
  111, 48, 86, 124, 72, 106, 59, 115, 100, 75,
  39, 88, 104, 79, 102, 59, 119, 68, 107, 80,
  100, 57, 114, 91, 69, 118, 124, 94, 53, 69,
  91, 113, 41, 106, 63, 120, 74, 94, 110, 83,
  122, 97, 66, 60, 98, 92, 37, 116, 72, 103,
  56, 98, 118, 62, 127, 87, 112, 35, 104, 121,
  77, 97, 62, 103, 49, 92, 110, 39, 84, 113,
  108, 68, 119, 80, 96, 63, 98, 81, 99, 88,
  95, 110, 75, 121, 58, 99, 116, 88, 52, 108,
  118, 85, 57, 92, 102, 103, 84, 98, 64, 114,
  102, 70, 93, 111, 60, 125, 96, 114, 88, 96,
  26, 31, 44, 38, 53, 48, 7, 19, 12, 21,
  30, 25, 5, 36, 27, 14, 47, 62, 24, 46,
  52, 22, 58, 36, 30, 33, 9, 35, 17, 41,
  56, 28, 45, 61, 31, 19, 44, 10, 53, 16,
  66, 26, 72, 41, 58, 49, 34, 22, 64, 140,

  112, 67, 125, 88, 130, 74, 118, 96, 132, 61,
  104, 127, 79, 119, 93, 128, 69, 110, 124, 87,
  47, 101, 83, 121, 58, 108, 129, 76, 115, 99,
  133, 85, 116, 62, 105, 121, 97, 129, 78, 113,
  92, 124, 63, 110, 86, 131, 72, 119, 104, 127,
  70, 111, 128, 95, 117, 81, 125, 102, 66, 120,
  127, 80, 115, 56, 122, 97, 134, 65, 109, 90,
  122, 98, 131, 74, 113, 89, 119, 57, 126, 103,
  71, 118, 94, 128, 44, 113, 85, 125, 101, 133,
  91, 124, 68, 108, 130, 83, 116, 95, 121, 74,
  55, 38, 72, 29, 63, 46, 81, 35, 69, 52,
  44, 77, 39, 61, 33, 84, 50, 67, 41, 73,
  24, 33, 41, 28, 52, 37, 47, 56, 43, 60,
  19, 27, 36, 45, 31, 50, 39, 63, 48, 66,
  106, 88, 121, 99, 114, 127, 93, 118, 109, 96,
  83, 97, 116, 72, 124, 105, 131, 87, 112, 126,
  117, 99, 128, 110, 135, 91, 122, 103, 119, 86,
  62, 76, 58, 89, 67, 94, 71, 99, 78, 83,
  140, 155, 148, 162, 150, 145, 170, 158, 143, 166,
  24, 34, 41, 49, 58, 29, 37, 44, 54, 62,

  98, 117, 76, 124, 88, 110, 64, 119, 92, 106,
  87, 101, 66, 95, 78, 129, 83, 113, 71, 121,
  79, 114, 97, 69, 112, 94, 58, 99, 86, 72,
  44, 58, 38, 66, 52, 74, 46, 81, 57, 68,
  36, 49, 62, 41, 70, 55, 83, 48, 90, 61,
  105, 92, 118, 84, 109, 77, 101, 88, 96, 64,
  32, 53, 40, 61, 48, 73, 59, 66, 45, 35,
  121, 104, 93, 110, 85, 115, 126, 100, 118, 108,
  67, 82, 54, 134, 142, 128, 152, 138, 146, 131,
  53, 76, 48, 88, 64, 71, 58, 83, 95, 102,

  138, 150, 131, 154, 143, 156, 137, 149, 141, 147,
  133, 142, 128, 135, 126, 144, 152, 133, 147, 139,
  155, 130, 145, 136, 141, 129, 137, 141, 135, 148,
  127, 153, 142, 151, 134, 139, 146, 132, 136, 125,
  130, 143, 137, 155, 128, 149, 144, 153, 131, 140,
  135, 132, 140, 146, 138, 152, 129, 147, 143, 137,
  144, 130, 143, 127, 148, 134, 155, 126, 139, 145,
  129, 149, 136, 143, 150, 133, 128, 138, 166, 172,

  45, 98, 27, 121, 66, 108, 34, 87, 132, 58,
  76, 112, 41, 95, 63, 118, 52, 135, 24, 89,
  104, 61, 128, 37, 93, 70, 117, 49, 84, 107,
  81, 29, 114, 57, 139, 72, 99, 43, 125, 65,
  103, 36, 90, 118, 52, 96, 131, 20, 108, 61,
  79, 124, 48, 101, 31, 87, 113, 59, 95, 136,
  68, 105, 39, 127, 82, 55, 116, 26, 92, 121,
  47, 109, 74, 35, 102, 64, 128, 85, 44, 119,
  97, 22, 110, 67, 131, 51, 99, 78, 124, 83,
  38, 117, 60, 138, 93, 71, 106, 33, 89, 114,
  62, 86, 42, 129, 57, 107, 25, 94, 133, 70,
  111, 46, 123, 84, 68, 100, 54, 112, 36, 90,
  120, 75, 96, 30, 115, 63, 82, 127, 48, 105,
  79, 58, 98, 123, 41, 88, 112, 66, 135, 53,
  92, 119, 28, 74, 108, 45, 137, 115, 50, 97,

  95, 62, 128, 44, 110, 81, 57, 118, 73, 92,
  48, 104, 66, 85, 140, 76, 103, 35, 121, 58,
  88, 47, 112, 69, 95, 53, 78, 115, 29, 97,
  64, 132, 83, 106, 42, 90, 71, 99, 60, 82,
  119, 56, 102, 75, 93, 61, 84, 52, 108, 125,
  38, 86, 116, 67, 100, 77, 45, 89, 134, 51,
  70, 123, 94, 59, 80, 68, 101, 146, 55, 113,
  87, 39, 74, 91, 63, 24, 111, 98, 66, 79,

  124, 129, 133, 127, 138, 131, 142, 135, 144, 126,
  136, 130, 141, 134, 128, 145, 139, 121, 132, 137,
  143, 140, 125, 139, 132, 146, 128, 136, 131, 148,

  12, 24, 8, 33, 18, 41, 27, 15, 36, 22,
  45, 30, 40, 15, 28, 9, 47, 20, 35, 52,
  26, 44, 31, 56, 39, 28, 48, 35, 60, 42,
  52, 38, 66, 45, 58, 49, 72, 55, 22, 31,
  55, 20, 38, 12, 60, 30, 24, 50, 34, 19,
  42, 25, 36, 27, 64, 31, 45, 33, 57, 40
];

var plot = { left: 139.5, right: 895.5, top: 22, bottom: 591.5 };

var svg = d3.select("#chart");

var x = d3.scaleLinear().domain([0, 500]).range([plot.left, plot.right]);
var yLeft = d3.scaleLinear().domain([0, 80]).range([plot.bottom, plot.top]);
var yRight = d3.scaleLinear().domain([0, 400]).range([plot.bottom, plot.top]);

// horizontal gridlines
svg.append("g")
    .attr("transform", "translate(" + plot.left + ",0)")
    .call(d3.axisLeft(yLeft).tickValues(numberTicks.slice(1)).tickSize(-(plot.right - plot.left)).tickFormat(""))
    .call(g => g.select(".domain").remove())
    .selectAll("line")
    .attr("stroke", "#a0a0a0");

function styleAxis(g) {
    g.select(".domain").attr("stroke", "#808080");
    g.selectAll(".tick line").attr("stroke", "#808080");
    g.selectAll("text")
        .attr("font-size", "27px")
        .attr("font-family", "'Liberation Sans', Arial, sans-serif");
}

// left axis
svg.append("g")
    .attr("transform", "translate(" + plot.left + ",0)")
    .call(d3.axisLeft(yLeft).tickValues(numberTicks).tickSize(9).tickSizeOuter(0).tickPadding(13))
    .call(styleAxis);

// right axis
svg.append("g")
    .attr("transform", "translate(" + plot.right + ",0)")
    .call(d3.axisRight(yRight).tickValues(surfaceTicks).tickSize(9).tickSizeOuter(0).tickPadding(12))
    .call(styleAxis);

// bottom axis
svg.append("g")
    .attr("transform", "translate(0," + plot.bottom + ")")
    .call(d3.axisBottom(x).tickValues(pm10Ticks).tickSize(8).tickSizeOuter(0).tickPadding(23))
    .call(styleAxis);

var diamond = "M0,-4.6L4.6,0L0,4.6L-4.6,0Z";
var n = Math.min(pm10.length, totalNumber.length, alveolarSurface.length);
var idx = d3.range(n);

// total number (black diamonds)
svg.append("g")
    .selectAll("path")
    .data(idx)
    .enter()
    .append("path")
    .attr("d", diamond)
    .attr("fill", "#000")
    .attr("transform", function (i) {
        return "translate(" + x(pm10[i]) + "," + yLeft(totalNumber[i]) + ")";
    });

// alveolar surface (blue open squares)
svg.append("g")
    .selectAll("rect")
    .data(idx)
    .enter()
    .append("rect")
    .attr("x", function (i) { return x(pm10[i]) - 3.75; })
    .attr("y", function (i) { return yRight(alveolarSurface[i]) - 3.75; })
    .attr("width", 7.5)
    .attr("height", 7.5)
    .attr("fill", "none")
    .attr("stroke", "#0000ff")
    .attr("stroke-width", 1.5);

// legend
var legend = svg.append("g");
legend.append("rect")
    .attr("x", 555.5).attr("y", 36.5)
    .attr("width", 321).attr("height", 76)
    .attr("fill", "#fff")
    .attr("stroke", "#a0a0a0");
legend.append("path")
    .attr("d", diamond)
    .attr("transform", "translate(572,57)")
    .attr("fill", "#000");
legend.append("rect")
    .attr("x", 572 - 3.5).attr("y", 95 - 3.5)
    .attr("width", 7).attr("height", 7)
    .attr("fill", "none").attr("stroke", "#0000ff").attr("stroke-width", 1.5);
legend.selectAll("text.lg")
    .data(seriesNames)
    .enter()
    .append("text")
    .attr("class", "lg")
    .attr("x", 588)
    .attr("y", (d, i) => 65 + i * 38)
    .attr("font-size", "28px")
    .text(d => d);

// axis titles
svg.append("text")
    .attr("transform", "translate(517.5,678)")
    .attr("text-anchor", "middle")
    .attr("font-size", "28px")
    .text("PM10 concentration µg m-3");

svg.append("text")
    .attr("transform", "translate(43,307) rotate(-90)")
    .attr("text-anchor", "middle")
    .attr("font-size", "28px")
    .text("Total Number concentration");
svg.append("text")
    .attr("transform", "translate(70,307) rotate(-90)")
    .attr("text-anchor", "middle")
    .attr("font-size", "28px")
    .text("1000# cm-3");

svg.append("text")
    .attr("transform", "translate(1003,307) rotate(-90)")
    .attr("text-anchor", "middle")
    .attr("font-size", "28px")
    .text("Alveolar surface concentration");
svg.append("text")
    .attr("transform", "translate(1030,307) rotate(-90)")
    .attr("text-anchor", "middle")
    .attr("font-size", "28px")
    .text("µm² cm-3");
</script>
</body>
</html>
